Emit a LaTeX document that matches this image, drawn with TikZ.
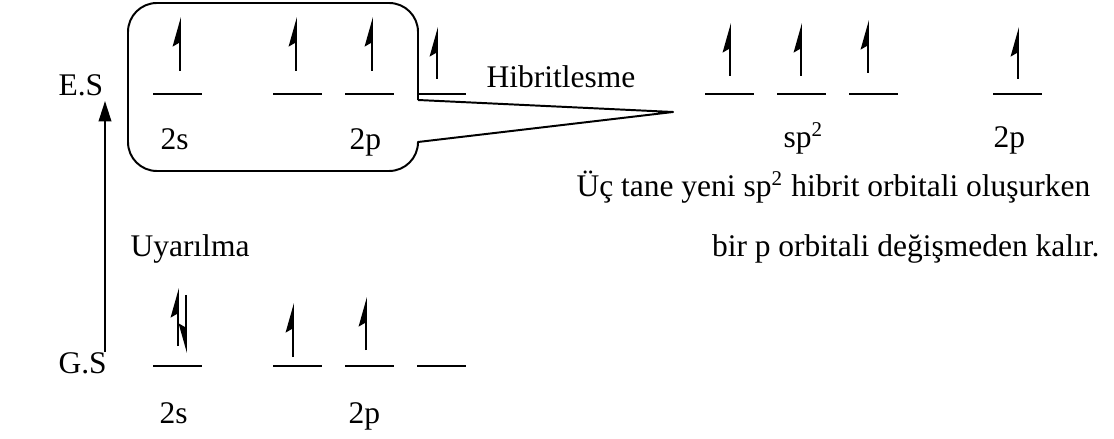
\documentclass[tikz,border=0pt]{standalone}
\usepackage{fontspec}
\setmainfont{Liberation Serif}
\usepackage{tikz}
\usetikzlibrary{arrows.meta, positioning}
\tikzset{
  lbl/.style={font=\rmfamily\fontsize{12}{14}\selectfont, inner sep=0pt, anchor=base west},
  orb/.style={line width=0.75pt},
  spinup/.style={-{Stealth[harpoon, length=10pt, width=5.6pt, inset=1.6pt]}, line width=0.7pt},
  spindown/.style={-{Stealth[harpoon, swap, length=10pt, width=5.6pt, inset=1.6pt]}, line width=0.7pt},
  callout/.style={line width=0.75pt, line join=round},
  excite/.style={-{Triangle[length=7.8pt, width=4.8pt]}, line width=0.75pt},
}

\begin{document}
\begin{tikzpicture}[x=0.381pt, y=-0.381pt]
  \useasboundingbox (0,0) rectangle (1114,439);
  \node[lbl] (es) at (58,96) {E.S};
  \node[lbl] (gs) at (58,373) {G.S};
  \node[lbl] (uyar) at (130,257) {Uyarılma};
  \node[lbl] (hib) at (486,88) {Hibritlesme};
  \coordinate (gsbot) at (105,352);
  \coordinate (estop) at (105,101);
  \draw[excite] (gsbot) -- (estop);
  % callout round the excited 2s/2p set
  \draw[callout] (418,100) -- (673,112) -- (418,142) [rounded corners=11pt]
    -- (418,171) -- (128,171) -- (128,3) -- (418,3) -- (418,100);
  % excited state
  \foreach \x in {153,273,345,417} \draw[orb] (\x,94) -- ++(49,0);
  \foreach \x/\t/\b in {180/17/71, 296/17/71, 372/17/71, 437/27/79}
    \draw[spinup] (\x,\b) -- (\x,\t);
  \node[lbl] (es2s) at (160,150) {2s};
  \node[lbl] (es2p) at (349,150) {2p};
  % ground state
  \foreach \x in {153,273,345,417} \draw[orb] (\x,366) -- ++(49,0);
  \draw[spinup] (178,346) -- (178,288);
  \draw[spindown] (186,295) -- (186,353);
  \foreach \x/\t/\b in {293/303/357, 366/297/350}
    \draw[spinup] (\x,\b) -- (\x,\t);
  \node[lbl] (gs2s) at (159,423) {2s};
  \node[lbl] (gs2p) at (348,423) {2p};
  % hybrid set
  \foreach \x in {705,777,849,993} \draw[orb] (\x,94) -- ++(49,0);
  \foreach \x/\t/\b in {730/23/76, 801/23/76, 868/20/73, 1018/27/79}
    \draw[spinup] (\x,\b) -- (\x,\t);
  \node[lbl] (sp) at (783,148) {sp\textsuperscript{2}};
  \node[lbl] (hy2p) at (993,148) {2p};
  \node[lbl] (not1) at (576,197) {Üç tane yeni sp\textsuperscript{2} hibrit orbitali oluşurken};
  \node[lbl, anchor=base east] (not2) at (1100,257) {bir p orbitali değişmeden kalır.};
\end{tikzpicture}
\end{document}
